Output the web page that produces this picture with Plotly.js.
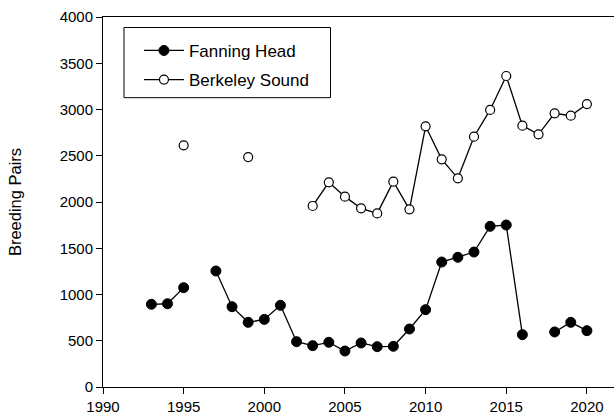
<!DOCTYPE html>
<html><head><meta charset="utf-8">
<script src="https://cdn.plot.ly/plotly-3.0.1.min.js"></script>
<style>body{margin:0;background:#fff}#chart{width:614px;height:418px}</style>
</head><body><div id="chart"></div>
<script>
const years = [1993,1994,1995,1996,1997,1998,1999,2000,2001,2002,2003,2004,2005,2006,2007,2008,2009,2010,2011,2012,2013,2014,2015,2016,2017,2018,2019,2020];
const fanningHead = [894,900,1074,null,1254,868,699,731,883,490,447,483,389,476,436,440,627,836,1351,1402,1459,1737,1751,566,null,595,699,609];
const berkeleySound = [null,null,2613,null,null,null,2486,null,null,null,1957,2213,2058,1932,1877,2220,1921,2818,2461,2256,2706,2995,3362,2825,2732,2959,2933,3059];
const xTicks = [1990,1995,2000,2005,2010,2015,2020];
const yTicks = [0,500,1000,1500,2000,2500,3000,3500,4000];

const traces = [
  {x: years, y: fanningHead, name: 'Fanning Head', mode: 'lines+markers', connectgaps: false, legendgroup:'a',
   line: {color: '#000', width: 1.3}, marker: {symbol: 'circle', size: 10, color: '#000', line: {color:'#000', width: 1}}},
  {x: years, y: berkeleySound, name: 'Berkeley Sound', mode: 'lines+markers', connectgaps: false, legendgroup:'b',
   line: {color: '#000', width: 1.3}, marker: {symbol: 'circle', size: 9, color: '#fff', line: {color:'#000', width: 1.2}}}
];
const tickFont = {family: 'Liberation Sans, Arial, sans-serif', size: 15, color: '#000'};
const layout = {
  width: 614, height: 418,
  margin: {l: 103, r: 0, t: 17, b: 31},
  paper_bgcolor: '#fff', plot_bgcolor: '#fff',
  font: {family: 'Liberation Sans, Arial, sans-serif', color: '#000', size: 15},
  showlegend: true,
  legend: {x: 0.041, y: 0.957, xanchor: 'left', yanchor: 'top', borderwidth: 0,
    bgcolor: 'rgba(0,0,0,0)', font: {size: 17, color: '#000'}, traceorder: 'grouped', tracegroupgap: 4,
    itemwidth: 40, indentation: 15},
  shapes: [{type: 'rect', xref: 'paper', yref: 'paper', x0: 0.0411, x1: 0.4452, y0: 0.782, y1: 0.9716,
    line: {color: '#000', width: 1}, fillcolor: 'rgba(0,0,0,0)', layer: 'above'}],
  xaxis: {range: [1990, 2021.68], tickvals: xTicks, ticktext: xTicks.map(String), showgrid: false, zeroline: false,
    showline: true, linecolor: '#000', linewidth: 1, mirror: true, ticks: 'outside', ticklen: 6, tickcolor: '#000',
    tickfont: tickFont},
  yaxis: {range: [0, 4000], tickvals: yTicks, ticktext: yTicks.map(String), showgrid: false, zeroline: false,
    showline: true, linecolor: '#000', linewidth: 1, ticks: 'outside', ticklen: 6, tickcolor: '#000',
    tickfont: tickFont,
    title: {text: 'Breeding Pairs', font: {size: 16.5, color: '#000'}, standoff: 33}}
};
Plotly.newPlot('chart', traces, layout, {displayModeBar: false, staticPlot: true});
</script></body></html>
